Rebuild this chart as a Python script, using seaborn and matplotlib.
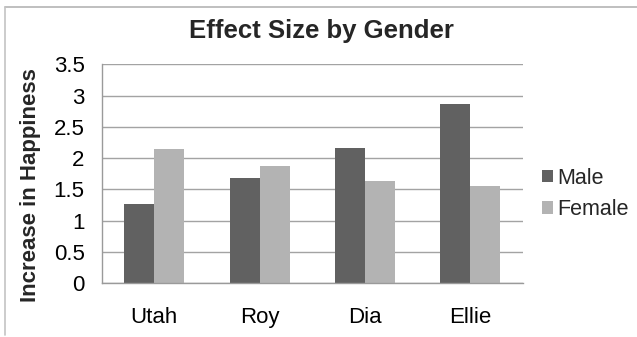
import matplotlib
matplotlib.use("Agg")
import matplotlib.pyplot as plt
from matplotlib.lines import Line2D
import seaborn as sns
import pandas as pd

# Data
sites = ["Utah", "Roy", "Dia", "Ellie"]
genders = ["Male", "Female"]
male = [1.26, 1.68, 2.17, 2.86]
female = [2.14, 1.87, 1.63, 1.56]
yticks = [0, 0.5, 1, 1.5, 2, 2.5, 3, 3.5]
ytick_labels = ["0", "0.5", "1", "1.5", "2", "2.5", "3", "3.5"]

df = pd.DataFrame({
    "Site": sites * 2,
    "Gender": [genders[0]] * len(sites) + [genders[1]] * len(sites),
    "Value": male + female,
})

sns.set_style("white")
plt.rcParams["font.family"] = ["Liberation Sans", "DejaVu Sans"]

W, H = 637, 337
fig = plt.figure(figsize=(W / 100, H / 100), dpi=100)
ax = fig.add_axes([101.7 / W, 1 - 283.3 / H, 421 / W, 219 / H])

sns.barplot(
    data=df, x="Site", y="Value", hue="Gender",
    order=sites, hue_order=genders,
    palette={"Male": "#616161", "Female": "#b3b3b3"},
    width=0.57, gap=0, saturation=1, linewidth=0, ax=ax,
)

ax.set_ylim(0, 3.5)
ax.set_yticks(yticks, ytick_labels)
ax.set_xlabel("")
ax.set_ylabel("")
ax.yaxis.grid(True, color="#a3a3a3", linewidth=1)
ax.set_axisbelow(True)

for side in ("top", "right"):
    ax.spines[side].set_visible(False)
for side in ("left", "bottom"):
    ax.spines[side].set_color("#9a9a9a")
    ax.spines[side].set_linewidth(1)

ax.tick_params(axis="y", direction="out", length=4.3, width=0.8,
               color="#9a9a9a", pad=8, labelsize=16, labelcolor="black")
ax.tick_params(axis="x", length=0, pad=17, labelsize=16, labelcolor="black")

# Title and axis label
fig.text(321.7 / W, 1 - 31 / H, "Effect Size by Gender", ha="center", va="center",
         fontsize=18.5, fontweight="bold")
fig.text(31 / W, 1 - 185 / H, "Increase in Happiness", ha="center", va="center",
         rotation=90, fontsize=16, fontweight="bold")

# Legend on the right
sns.move_legend(
    ax, "center left", bbox_to_anchor=(541.7 / W, 1 - 194 / H),
    bbox_transform=fig.transFigure, title=None, frameon=False,
    fontsize=15.5, handlelength=0.54, handleheight=0.54, handletextpad=0.18,
    labelspacing=0.5, borderpad=0, borderaxespad=0,
)

# Chart area border (top and left edges)
fig.add_artist(Line2D([5 / W, 1], [1 - 7 / H, 1 - 7 / H], transform=fig.transFigure,
                      color="#b4b4b4", linewidth=1.2))
fig.add_artist(Line2D([5 / W, 5 / W], [1 - 7 / H, 1 - 335 / H], transform=fig.transFigure,
                      color="#c4c4c4", linewidth=1.2))

fig.savefig("out.png", dpi=100)
